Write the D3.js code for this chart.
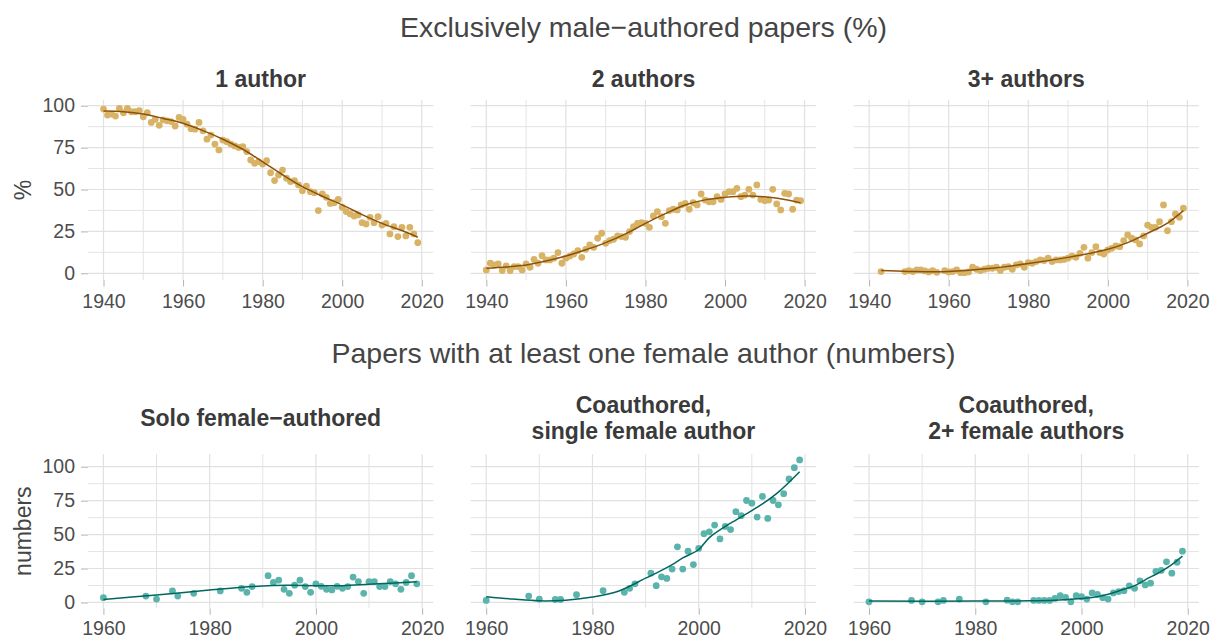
<!DOCTYPE html>
<meta charset="utf-8">
<style>

body {
  margin: 0;
  background: #fff;
  font-family: "Liberation Sans", Arial, sans-serif;
}

.grid line {
  stroke: #e1e1e1;
}

.tick-label {
  fill: #4d4d4d;
  font-family: "Liberation Sans", Arial, sans-serif;
  font-size: 19.5px;
}

.strip {
  fill: #3a3a3a;
  font-size: 23px;
  font-weight: bold;
  text-anchor: middle;
}

.section {
  fill: #454545;
  font-size: 28.5px;
  text-anchor: middle;
}

</style>

<body>
</body>

<script src="https://cdn.jsdelivr.net/npm/d3@7"></script>
<script>

// ---- data ----

var topYears = [1940,1941,1942,1943,1944,1945,1946,1947,1948,1949,
                1950,1951,1952,1953,1954,1955,1956,1957,1958,1959,
                1960,1961,1962,1963,1964,1965,1966,1967,1968,1969,
                1970,1971,1972,1973,1974,1975,1976,1977,1978,1979,
                1980,1981,1982,1983,1984,1985,1986,1987,1988,1989,
                1990,1991,1992,1993,1994,1995,1996,1997,1998,1999,
                2000,2001,2002,2003,2004,2005,2006,2007,2008,2009,
                2010,2011,2012,2013,2014,2015,2016,2017,2018,2019];

var oneAuthor = [98,94.4,95,93.8,98.4,95.8,98.4,96.4,96.4,97,
                 93.4,95.8,90,91.8,88.3,91.5,91,90.5,87.9,93,
                 91.8,89,86.3,86,90,85,80,82.5,77.1,73.6,
                 79.5,78.5,77.1,76,75.1,75.5,72.6,67.6,65.6,66.6,
                 65.2,67.2,60,55.3,58.6,61.6,56.7,54.7,55.3,52.7,
                 49.3,52,48.7,48.1,37.4,47.3,45.3,41.7,42.1,44.1,
                 39.4,36.8,35.4,34.2,34.8,30.2,29.4,33.4,30.2,33.8,
                 28.8,29.8,23.5,27.8,21.9,27.4,22.3,27.4,23.5,18.3];

var twoAuthors = [2,6,5,5.6,1.6,4.4,1.6,4,4,2,
                  5.6,3.6,8.3,6,10.5,8,8,9,12.3,6,
                  9,10.3,11.5,13.5,9.5,14.3,16.9,15.5,20.9,23.9,
                  17.9,19.5,20.3,22.3,21.9,21.5,24.9,27.8,29.8,30.2,
                  29.8,27.4,34.2,36.8,33.8,29.8,37.4,38.2,37.8,40.8,
                  41.7,38.2,42.1,40.8,47.3,43.7,42.7,42.7,45.7,44.1,
                  47.3,48.7,48.7,50.7,45.7,46.7,50.1,46.7,52.7,44.1,
                  43.3,43.7,50.1,41.4,37.8,47.7,47.3,38.2,43.7,43.3];

var threeYears = [1943,1949,1950,1951,1952,1953,1954,1955,1956,1957,
                  1959,1960,1961,1962,1963,1964,1965,1966,1967,1968,
                  1969,1970,1971,1972,1973,1974,1975,1976,1977,1978,
                  1979,1980,1981,1982,1983,1984,1985,1986,1987,1988,
                  1989,1990,1991,1992,1993,1994,1995,1996,1997,1998,
                  1999,2000,2001,2002,2003,2004,2005,2006,2007,2008,
                  2009,2010,2011,2012,2013,2014,2015,2016,2017,2018,2019];

var threeAuthors = [1,1,1.6,1,2,2,1.4,0.8,1.6,0.6,
                    1.6,0.8,1,2,0.4,0.4,0.8,3.6,2.4,1.6,
                    2.4,3,3,3.6,1.6,3.6,4,2.4,5,5.6,
                    3.6,6.4,6,7,8,7.6,9,7,8,8,
                    8.3,9,10.3,9.5,11.9,15.5,9,12.3,15.9,12.3,
                    11.5,13.9,14.9,16.3,15.9,19.5,22.9,20.9,19.9,17.5,
                    22.3,28.8,27.4,27.4,30.8,40.8,25.4,30.8,35.4,33.4,38.8];

// smoothed trend lines, read at a handful of years
var oneSmoothYears = [1940,1945,1950,1955,1960,1965,1970,1975,1980,1985,1990,1995,2000,2005,2010,2015,2019];
var oneSmooth      = [96.8,96.4,95,92.4,89.5,85.1,80,74,66.5,58.8,51.7,46,40.8,35,29.8,25.5,21.5];
var twoSmoothYears = [1940,1945,1950,1955,1960,1965,1970,1975,1980,1985,1990,1995,2000,2005,2010,2015,2019];
var twoSmooth      = [3,3.8,5,7.3,10.3,14,18.3,23.5,29.8,35.6,40.8,43.8,45.3,46.1,45.6,44,42.1];
var threeSmoothYears = [1943,1950,1960,1970,1980,1990,1995,2000,2005,2010,2015,2019];
var threeSmooth      = [1.6,1.1,1,2.8,5.8,9.5,11.7,14.3,18.3,23.9,30,37.4];

var bottomYears = [1960,1968,1970,1973,1974,1977,1982,1986,1987,1988,
                   1991,1992,1993,1994,1995,1996,1997,1998,1999,2000,
                   2001,2002,2003,2004,2005,2006,2007,2008,2009,2010,
                   2011,2012,2013,2014,2015,2016,2017,2018,2019];

var soloFemale = [3.5,4.7,2.5,8.5,4.7,6.7,8.5,10.4,7.5,11.7,
                  19.7,14.7,16.4,9.7,6.7,12.7,16.4,11.7,7.5,13.7,
                  11.9,9.7,9.2,11.9,10.4,11.7,18.7,15.4,6.7,15.4,
                  15.4,11.7,11.7,15.4,13.7,9.7,14.7,19.7,13.7];

var singleFemale = [1.5,4.7,2.5,2.2,2.2,5.7,8.7,7.5,10.4,13.7,
                    21.6,12.4,18.9,17.7,24.6,41,24.6,37.8,27.9,39.8,
                    50.7,52,57,46.8,56,53.7,66.9,63.9,75.1,73.1,
                    62.9,78.1,61.9,75.1,71.9,80.1,91,99.3,105];

var multiFemale = [0.5,1.5,0.5,0.5,1.5,2.5,0.5,1.7,0.5,0.5,
                   1.5,1.5,1.5,1.5,3,5,3.7,0.5,5,4.2,
                   2.5,7,6,3.5,2.5,7,8,8.7,12.2,10.4,
                   15.9,12.9,14.2,22.9,23.6,29.9,21.6,29.6,37.8];

var soloSmoothYears = [1960,1970,1980,1990,1995,2000,2005,2010,2015,2019];
var soloSmooth      = [2.2,5.5,9.2,12.2,12.6,12.4,12.4,13.4,14.4,15.2];
var singleSmoothYears = [1960,1965,1970,1975,1980,1985,1990,1992,1995,1997,2000,2002,2005,2007,2010,2012,2015,2019];
var singleSmooth      = [4.2,2.5,1.2,1.7,4,8.5,17.9,21.6,27.9,32.8,39,47.8,56,60.7,67.7,72.6,81.3,96.3];
var multiSmoothYears = [1960,1980,1990,1995,2000,2003,2005,2007,2010,2012,2015,2017,2019];
var multiSmooth      = [1,1,1.2,1.7,3,4.2,6,8.5,12.4,16.7,22.9,27.9,34.1];

var topTitles = ["1 author", "2 authors", "3+ authors"];
var bottomTitles = [["Solo female\u2212authored"], ["Coauthored,", "single female author"], ["Coauthored,", "2+ female authors"]];
var yTicks = [0, 25, 50, 75, 100];
var yMinor = [12.5, 37.5, 62.5, 87.5];
var topXTicks = [1940, 1960, 1980, 2000, 2020];
var topXMinor = [1950, 1970, 1990, 2010];
var bottomXTicks = [1960, 1980, 2000, 2020];
var bottomXMinor = [1970, 1990, 2010];

// ---- layout ----

var W = 1213, H = 639;
var panelLeft = [88, 470.8, 853.6], panelW = 345.3;

var svg = d3.select("body").append("svg")
    .attr("width", W)
    .attr("height", H);

function zip(xs, ys) {
  return xs.map(function(x, i) { return {x: x, y: ys[i]}; });
}

function drawRow(cfg) {
  var y = d3.scaleLinear().domain(cfg.yDomain).range([cfg.bottom, cfg.top]);

  cfg.panels.forEach(function(p, k) {
    var x = d3.scaleLinear().domain(cfg.xDomain).range([panelLeft[k], panelLeft[k] + panelW]);
    var g = svg.append("g");

    // grid
    var grid = g.append("g").attr("class", "grid");
    grid.selectAll(".hmin").data(yMinor).enter().append("line")
      .attr("x1", x.range()[0]).attr("x2", x.range()[1])
      .attr("y1", y).attr("y2", y).attr("stroke-width", 0.9);
    grid.selectAll(".hmaj").data(yTicks).enter().append("line")
      .attr("x1", x.range()[0]).attr("x2", x.range()[1])
      .attr("y1", y).attr("y2", y).attr("stroke-width", 1.2);
    grid.selectAll(".vmin").data(cfg.xMinor).enter().append("line")
      .attr("y1", cfg.top).attr("y2", cfg.bottom)
      .attr("x1", x).attr("x2", x).attr("stroke-width", 0.9);
    grid.selectAll(".vmaj").data(cfg.xTicks).enter().append("line")
      .attr("y1", cfg.top).attr("y2", cfg.bottom)
      .attr("x1", x).attr("x2", x).attr("stroke-width", 1.2);

    // x axis
    var xa = g.append("g")
      .attr("transform", "translate(0," + cfg.bottom + ")")
      .call(d3.axisBottom(x).tickValues(cfg.xTicks).tickFormat(d3.format("d")).tickSize(6.5).tickPadding(cfg.xPad));
    xa.attr("font-family", null).attr("font-size", null);
    xa.select(".domain").remove();
    xa.selectAll(".tick line").attr("stroke", "#b3b3b3");
    xa.selectAll("text").attr("class", "tick-label").attr("fill", null);

    // y axis only on the first panel
    if (k == 0) {
      var ya = g.append("g")
        .attr("transform", "translate(" + x.range()[0] + ",0)")
        .call(d3.axisLeft(y).tickValues(yTicks).tickSize(7).tickPadding(6));
      ya.attr("font-family", null).attr("font-size", null);
      ya.select(".domain").remove();
      ya.selectAll(".tick line").attr("stroke", "#b3b3b3");
      ya.selectAll("text").attr("class", "tick-label").attr("fill", null);
    }

    // points, then trend line on top
    g.selectAll(".pt").data(zip(p.years, p.values)).enter().append("circle")
      .attr("cx", function(d) { return x(d.x); })
      .attr("cy", function(d) { return y(d.y); })
      .attr("r", 3.4)
      .attr("fill", cfg.pointColor);

    var line = d3.line()
      .x(function(d) { return x(d.x); })
      .y(function(d) { return y(d.y); })
      .curve(d3.curveCatmullRom.alpha(0.5));
    g.append("path")
      .datum(zip(p.smoothYears, p.smooth))
      .attr("d", line)
      .attr("fill", "none")
      .attr("stroke", cfg.lineColor)
      .attr("stroke-width", 1.5);

    // strip title
    var cx = panelLeft[k] + panelW / 2;
    var lines = cfg.titles[k];
    if (typeof lines == "string") lines = [lines];
    lines.forEach(function(t, j) {
      var base = lines.length == 1 ? cfg.stripBase : cfg.stripBase2 + j * 26;
      svg.append("text").attr("class", "strip")
        .attr("x", cx).attr("y", base).text(t);
    });
  });

  // y axis title
  svg.append("text")
    .attr("transform", "translate(31," + ((cfg.top + cfg.bottom) / 2) + ") rotate(-90)")
    .attr("text-anchor", "middle")
    .attr("fill", "#454545")
    .attr("font-size", "23px")
    .text(cfg.yTitle);
}

// section headings
svg.append("text").attr("class", "section")
  .attr("x", 643.5).attr("y", 37)
  .text("Exclusively male\u2212authored papers (%)");
svg.append("text").attr("class", "section")
  .attr("x", 643.5).attr("y", 363)
  .text("Papers with at least one female author (numbers)");

drawRow({
  top: 100, bottom: 280,
  xDomain: [1936.1, 2022.9], yDomain: [-4.0, 103.4],
  xTicks: topXTicks, xMinor: topXMinor, xPad: 8,
  pointColor: "#d8b365", lineColor: "#8c510a",
  titles: topTitles, stripBase: 87, stripBase2: 87,
  yTitle: "%",
  panels: [
    {years: topYears, values: oneAuthor, smoothYears: oneSmoothYears, smooth: oneSmooth},
    {years: topYears, values: twoAuthors, smoothYears: twoSmoothYears, smooth: twoSmooth},
    {years: threeYears, values: threeAuthors, smoothYears: threeSmoothYears, smooth: threeSmooth}
  ]
});

drawRow({
  top: 454, bottom: 608.3,
  xDomain: [1957.1, 2022.1], yDomain: [-4.3, 109.35],
  xTicks: bottomXTicks, xMinor: bottomXMinor, xPad: 6,
  pointColor: "#5ab4ac", lineColor: "#01665e",
  titles: bottomTitles, stripBase: 425.5, stripBase2: 413,
  yTitle: "numbers",
  panels: [
    {years: bottomYears, values: soloFemale, smoothYears: soloSmoothYears, smooth: soloSmooth},
    {years: bottomYears, values: singleFemale, smoothYears: singleSmoothYears, smooth: singleSmooth},
    {years: bottomYears, values: multiFemale, smoothYears: multiSmoothYears, smooth: multiSmooth}
  ]
});

</script>
